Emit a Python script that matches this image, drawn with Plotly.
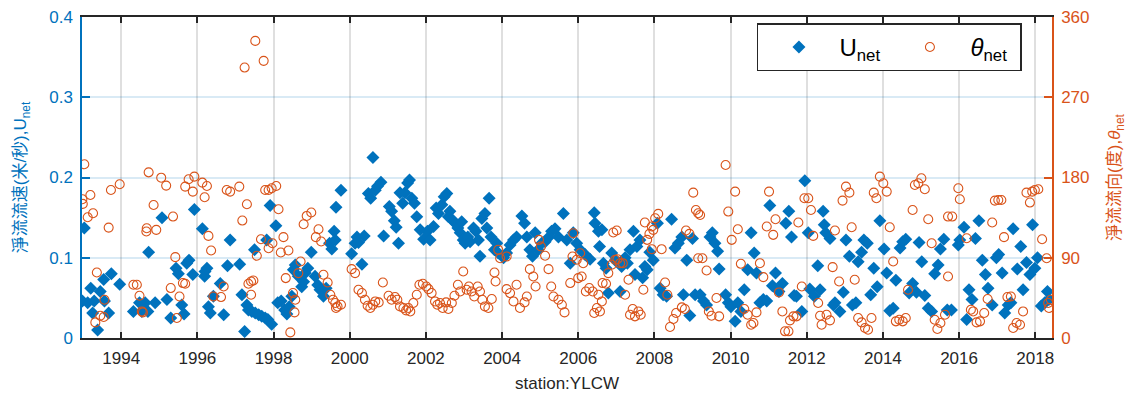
import plotly.graph_objects as go

# net current speed U_net (m/s), decimal year
u_year = [
    1992.98, 1993.03, 1993.12, 1993.20, 1993.25, 1993.29, 1993.38, 1993.45, 1993.54, 1993.56,
    1993.67, 1993.74, 1993.96, 1994.32, 1994.48, 1994.54, 1994.63, 1994.70, 1994.72, 1994.89,
    1995.07, 1995.20, 1995.30, 1995.44, 1995.50, 1995.59, 1995.65, 1995.72, 1995.78, 1995.88,
    1995.92,
    1996.13, 1996.19, 1996.20, 1996.25, 1996.29, 1996.34, 1996.42, 1996.60, 1996.69, 1996.79,
    1996.86, 1997.11, 1997.17, 1997.24, 1997.30, 1997.34, 1997.43, 1997.50, 1997.52, 1997.61,
    1997.69, 1997.78, 1997.82, 1997.85, 1997.91, 1997.95, 1998.06, 1998.11, 1998.20, 1998.29,
    1998.35, 1998.41, 1998.48, 1998.52, 1998.57, 1998.65, 1998.74, 1998.79, 1998.83, 1998.90,
    1998.99, 1999.09, 1999.16, 1999.22, 1999.31,
    1999.38, 1999.47, 1999.53, 1999.59, 1999.62, 1999.64, 1999.77, 2000.05, 2000.14, 2000.19,
    2000.23, 2000.32, 2000.38, 2000.49, 2000.55, 2000.61, 2000.67, 2000.73, 2000.82, 2000.89,
    2001.04, 2001.10, 2001.17, 2001.22, 2001.28, 2001.32, 2001.39, 2001.45, 2001.52, 2001.57,
    2001.63, 2001.70, 2001.76, 2001.85, 2001.94, 2002.04, 2002.11, 2002.20, 2002.27, 2002.33,
    2002.42, 2002.48, 2002.55, 2002.59,
    2002.63, 2002.70, 2002.77, 2002.84, 2002.90, 2002.94, 2002.98, 2003.03, 2003.10, 2003.16,
    2003.25, 2003.31, 2003.38, 2003.42, 2003.47, 2003.55, 2003.60, 2003.66, 2003.71, 2003.80,
    2003.86, 2003.90, 2004.04, 2004.12, 2004.21, 2004.30, 2004.38, 2004.52, 2004.59, 2004.65,
    2004.73, 2004.80, 2004.87, 2004.95, 2005.04, 2005.13, 2005.23, 2005.30, 2005.39, 2005.48,
    2005.61, 2005.70, 2005.79, 2005.87,
    2005.96, 2006.05, 2006.18, 2006.31, 2006.42, 2006.44, 2006.53, 2006.56, 2006.62, 2006.66,
    2006.73, 2006.79, 2006.88, 2006.97, 2007.10, 2007.14, 2007.23, 2007.29, 2007.36, 2007.45,
    2007.49, 2007.54, 2007.62, 2007.69, 2007.75, 2007.81, 2007.88, 2007.97, 2008.08, 2008.15,
    2008.23, 2008.32, 2008.45, 2008.54, 2008.63, 2008.72, 2008.76, 2008.85, 2008.93, 2009.00,
    2009.07,
    2009.20, 2009.29, 2009.37, 2009.46, 2009.52, 2009.59, 2009.66, 2009.70, 2009.87, 2009.94,
    2010.01, 2010.12, 2010.19, 2010.27, 2010.36, 2010.45, 2010.54, 2010.62, 2010.68, 2010.77,
    2010.86, 2010.95, 2011.03, 2011.10, 2011.18, 2011.27, 2011.36, 2011.45, 2011.53, 2011.60,
    2011.67, 2011.73, 2011.87, 2011.95, 2012.04, 2012.08, 2012.20, 2012.29, 2012.35, 2012.43,
    2012.46,
    2012.50, 2012.61, 2012.70, 2012.74, 2012.87, 2012.96, 2013.03, 2013.12, 2013.20, 2013.29,
    2013.35, 2013.44, 2013.50, 2013.59, 2013.68, 2013.76, 2013.85, 2013.92, 2014.03, 2014.10,
    2014.18, 2014.27, 2014.34, 2014.45, 2014.52, 2014.60, 2014.69, 2014.78, 2014.88, 2014.95,
    2015.02, 2015.10, 2015.19, 2015.28, 2015.36, 2015.45, 2015.51, 2015.60, 2015.69,
    2015.80, 2015.98, 2016.02, 2016.13, 2016.20, 2016.26, 2016.34, 2016.43, 2016.52, 2016.61,
    2016.69, 2016.76, 2016.87, 2016.98, 2017.04, 2017.13, 2017.20, 2017.29, 2017.36, 2017.42,
    2017.53, 2017.62, 2017.68, 2017.77, 2017.86, 2017.93, 2017.99, 2018.06, 2018.16, 2018.25,
    2018.32, 2018.36,
]
u_net = [
    0.046, 0.137, 0.044, 0.062, 0.031, 0.046, 0.010, 0.058, 0.073, 0.046,
    0.031, 0.080, 0.067, 0.033, 0.044, 0.033, 0.044, 0.033, 0.107, 0.044,
    0.150, 0.048, 0.025, 0.087, 0.080, 0.041, 0.030, 0.093, 0.097, 0.079,
    0.160,
    0.136, 0.077, 0.083, 0.087, 0.039, 0.031, 0.052, 0.068, 0.029, 0.090,
    0.122, 0.092, 0.054, 0.008, 0.041, 0.035, 0.033, 0.110, 0.031, 0.029,
    0.027, 0.025, 0.122, 0.023, 0.165, 0.017, 0.140, 0.044, 0.046, 0.035,
    0.030, 0.039, 0.052, 0.085, 0.091, 0.077, 0.064, 0.070, 0.081, 0.087,
    0.107, 0.077, 0.066, 0.060, 0.052,
    0.062, 0.118, 0.111, 0.133, 0.122, 0.163, 0.184, 0.105, 0.118, 0.126,
    0.119, 0.092, 0.127, 0.180, 0.174, 0.225, 0.184, 0.189, 0.194, 0.127,
    0.164, 0.158, 0.146, 0.138, 0.118, 0.181, 0.168, 0.181, 0.193, 0.197,
    0.174, 0.168, 0.151, 0.135, 0.123, 0.133, 0.122, 0.139, 0.162, 0.155,
    0.166, 0.176, 0.180, 0.151,
    0.158, 0.147, 0.143, 0.137, 0.131, 0.145, 0.122, 0.118, 0.126, 0.120,
    0.137, 0.133, 0.122, 0.102, 0.149, 0.155, 0.137, 0.174, 0.126, 0.110,
    0.118, 0.106, 0.100, 0.106, 0.116, 0.122, 0.126, 0.152, 0.143, 0.126,
    0.110, 0.102, 0.131, 0.110, 0.118, 0.120, 0.126, 0.133, 0.136, 0.126,
    0.155, 0.122, 0.093, 0.131,
    0.118, 0.110, 0.104, 0.098, 0.156, 0.143, 0.133, 0.114, 0.135, 0.093,
    0.087, 0.056, 0.106, 0.097, 0.058, 0.089, 0.100, 0.093, 0.110, 0.133,
    0.079, 0.114, 0.122, 0.075, 0.089, 0.085, 0.107, 0.097, 0.143, 0.062,
    0.054, 0.052, 0.148, 0.112, 0.118, 0.126, 0.054, 0.097, 0.028, 0.124,
    0.054,
    0.054, 0.046, 0.041, 0.126, 0.131, 0.118, 0.108, 0.086, 0.054, 0.044,
    0.039, 0.021, 0.044, 0.033, 0.060, 0.085, 0.131, 0.106, 0.081, 0.044,
    0.048, 0.046, 0.165, 0.065, 0.081, 0.058, 0.068, 0.143, 0.158, 0.126,
    0.053, 0.052, 0.033, 0.196, 0.131, 0.061, 0.052, 0.090, 0.060, 0.158,
    0.141,
    0.131, 0.124, 0.041, 0.044, 0.033, 0.057, 0.122, 0.102, 0.041, 0.044,
    0.095, 0.107, 0.122, 0.118, 0.054, 0.087, 0.064, 0.146, 0.111, 0.081,
    0.034, 0.037, 0.072, 0.112, 0.120, 0.123, 0.056, 0.068, 0.057, 0.119,
    0.095, 0.053, 0.037, 0.033, 0.080, 0.091, 0.111, 0.123, 0.035,
    0.035, 0.116, 0.122, 0.138, 0.023, 0.060, 0.048, 0.124, 0.146, 0.097,
    0.079, 0.062, 0.041, 0.100, 0.104, 0.081, 0.031, 0.041, 0.044, 0.136,
    0.086, 0.114, 0.060, 0.094, 0.079, 0.141, 0.087, 0.100, 0.040, 0.044,
    0.058, 0.048,
]

# net current direction theta_net (degrees), decimal year
th_year = [
    1992.98, 1992.99, 1993.03, 1993.12, 1993.19, 1993.26, 1993.32, 1993.36, 1993.45, 1993.54,
    1993.56, 1993.67, 1993.73, 1993.96, 1994.32, 1994.41, 1994.48, 1994.54, 1994.57, 1994.66,
    1994.67, 1994.72, 1994.85, 1994.92, 1995.05, 1995.18, 1995.30, 1995.36, 1995.42, 1995.46,
    1995.53, 1995.62, 1995.68, 1995.68, 1995.77, 1995.88, 1995.92,
    1996.13, 1996.19, 1996.25, 1996.29, 1996.36, 1996.42, 1996.62, 1996.69, 1996.77, 1996.86,
    1997.10, 1997.18, 1997.24, 1997.30, 1997.34, 1997.41, 1997.41, 1997.47, 1997.52, 1997.56,
    1997.67, 1997.74, 1997.78, 1997.87, 1997.87, 1997.95, 1997.97, 1998.07, 1998.13, 1998.19,
    1998.26, 1998.32, 1998.39, 1998.44, 1998.51, 1998.55, 1998.57, 1998.65, 1998.71, 1998.79,
    1998.87, 1998.99, 1999.11, 1999.18, 1999.25, 1999.31,
    1999.42, 1999.49, 1999.56, 1999.62, 1999.64, 1999.68, 1999.77, 2000.05, 2000.14, 2000.23,
    2000.32, 2000.40, 2000.47, 2000.54, 2000.61, 2000.67, 2000.76, 2000.87, 2001.02, 2001.10,
    2001.19, 2001.25, 2001.32, 2001.41, 2001.48, 2001.54, 2001.59, 2001.67, 2001.76, 2001.83,
    2001.92, 2002.01, 2002.07, 2002.15, 2002.24, 2002.30, 2002.37, 2002.44, 2002.53, 2002.59,
    2002.68, 2002.75, 2002.84, 2002.90, 2002.98, 2003.07, 2003.13, 2003.20, 2003.27, 2003.36,
    2003.42, 2003.48, 2003.55, 2003.64, 2003.73, 2003.80, 2003.83, 2003.90, 2003.95, 2004.12,
    2004.12, 2004.21, 2004.30, 2004.38, 2004.47, 2004.59, 2004.65, 2004.73, 2004.82, 2004.88,
    2004.97, 2005.02, 2005.13, 2005.22, 2005.29, 2005.35, 2005.48, 2005.57, 2005.64, 2005.79,
    2005.85, 2005.87,
    2005.96, 2006.00, 2006.05, 2006.09, 2006.13, 2006.20, 2006.29, 2006.38, 2006.42, 2006.49,
    2006.53, 2006.57, 2006.62, 2006.64, 2006.73, 2006.79, 2006.88, 2006.92, 2006.97, 2007.01,
    2007.03, 2007.10, 2007.17, 2007.23, 2007.32, 2007.36, 2007.43, 2007.49, 2007.58, 2007.64,
    2007.71, 2007.75, 2007.81, 2007.87, 2007.93, 2007.93, 2007.97, 2008.02, 2008.10, 2008.19,
    2008.28, 2008.34, 2008.41, 2008.50, 2008.57, 2008.72, 2008.80, 2008.83, 2008.92, 2009.02,
    2009.09, 2009.15, 2009.15,
    2009.20, 2009.26, 2009.37, 2009.43, 2009.50, 2009.63, 2009.70, 2009.87, 2009.94, 2010.03,
    2010.12, 2010.19, 2010.27, 2010.36, 2010.45, 2010.54, 2010.60, 2010.68, 2010.77, 2010.86,
    2010.95, 2011.01, 2011.12, 2011.18, 2011.27, 2011.36, 2011.43, 2011.52, 2011.56, 2011.65,
    2011.73, 2011.78, 2011.87, 2011.94, 2012.04, 2012.11, 2012.17, 2012.30, 2012.35, 2012.39,
    2012.52, 2012.61, 2012.68, 2012.74, 2012.85, 2012.94, 2013.03, 2013.12, 2013.18, 2013.26,
    2013.35, 2013.44, 2013.53, 2013.61, 2013.70, 2013.76, 2013.83, 2013.92, 2014.01, 2014.10,
    2014.18, 2014.27, 2014.34, 2014.43, 2014.52, 2014.60, 2014.66, 2014.78, 2014.84, 2014.93,
    2015.01, 2015.10, 2015.19, 2015.28, 2015.36, 2015.43, 2015.51, 2015.63, 2015.71, 2015.71,
    2015.82, 2015.98, 2016.02, 2016.20, 2016.31, 2016.37, 2016.46, 2016.55, 2016.66, 2016.75,
    2016.87, 2016.94, 2017.03, 2017.11, 2017.18, 2017.27, 2017.36, 2017.42, 2017.51, 2017.60,
    2017.68, 2017.77, 2017.86, 2017.92, 2017.99, 2018.08, 2018.18, 2018.30, 2018.34, 2018.36,
    2018.41,
]
th_net = [
    155.6, 150.4, 194.8, 135.4, 160.4, 139.9, 17.5, 73.5, 25.0, 23.5,
    42.9, 123.8, 166.0, 172.4, 59.7, 59.7, 47.4, 29.8, 28.7, 119.4,
    123.1, 185.8, 149.2, 121.3, 179.8, 170.9, 56.0, 136.2, 90.7, 22.4,
    46.6, 61.6, 60.8, 169.8, 178.0, 164.2, 181.0,
    174.2, 157.8, 170.5, 114.5, 98.1, 46.6, 45.9, 57.8, 166.0, 164.2,
    169.8, 131.7, 303.3, 150.0, 60.8, 63.4, 48.5, 64.5, 333.2, 92.2,
    110.8, 310.8, 166.0, 166.0, 100.7, 167.9, 106.3, 170.5, 144.4, 95.9,
    113.1, 67.2, 98.1, 6.3, 50.4, 28.7, 42.9, 72.8, 85.8, 127.6,
    136.9, 140.7, 113.1, 122.0, 108.2, 70.9,
    62.3, 48.5, 42.9, 39.2, 33.6, 35.4, 37.3, 77.2, 72.8, 54.1,
    50.4, 42.9, 36.2, 33.6, 37.3, 41.0, 39.9, 62.3, 47.4, 42.9,
    45.9, 42.9, 35.4, 33.6, 31.0, 33.6, 29.8, 39.2, 48.5, 59.7,
    60.8, 57.8, 54.8, 50.4, 41.0, 37.3, 39.2, 33.6, 39.9, 32.5,
    39.2, 47.4, 59.7, 52.2, 74.6, 54.1, 57.8, 52.2, 46.6, 57.8,
    52.2, 42.9, 35.4, 33.6, 43.7, 73.5, 63.4, 98.9, 89.5, 91.4,
    54.8, 50.4, 41.0, 59.7, 33.6, 39.9, 46.6, 77.2, 69.0, 57.8,
    110.1, 102.6, 92.2, 77.2, 57.8, 46.6, 42.9, 37.3, 28.7, 61.6,
    91.4, 117.5,
    87.7, 67.2, 95.1, 69.0, 83.9, 52.2, 56.0, 52.2, 28.0, 33.6,
    48.5, 29.8, 41.0, 61.6, 60.8, 72.8, 82.1, 118.3, 87.7, 120.5,
    88.4, 83.9, 83.9, 48.5, 65.3, 26.1, 32.5, 24.3, 29.8, 26.1,
    54.1, 129.5, 110.1, 116.8, 125.0, 99.6, 121.3, 134.3, 139.2, 99.6,
    62.3, 48.5, 12.3, 21.3, 28.0, 34.3, 32.5, 120.5, 116.8, 163.0,
    143.6, 139.9, 89.5,
    138.0, 89.5, 75.7, 29.8, 25.0, 44.8, 24.3, 194.0, 141.8, 110.1,
    164.2, 122.0, 83.2, 32.5, 26.1, 14.9, 16.8, 28.7, 83.9, 68.3,
    125.0, 164.2, 115.7, 133.2, 51.1, 29.8, 7.5, 7.5, 19.8, 24.3,
    24.3, 129.5, 57.8, 156.7, 156.7, 143.6, 114.5, 39.2, 25.0, 14.9,
    26.1, 19.8, 79.5, 120.5, 63.4, 154.1, 169.8, 163.0, 124.2, 65.3,
    22.4, 17.5, 11.2, 9.3, 22.4, 163.0, 156.7, 181.0, 173.5, 164.2,
    124.2, 85.8, 18.7, 20.5, 18.7, 22.4, 54.1, 143.6, 171.6, 173.5,
    179.1, 166.8, 133.2, 106.3, 20.5, 10.1, 16.8, 26.1, 69.0, 136.2,
    136.2, 167.9, 155.6, 111.9, 31.7, 29.8, 17.5, 18.7, 28.0, 43.7,
    129.5, 154.1, 154.8, 154.8, 113.1, 45.9, 46.6, 11.2, 16.8, 14.9,
    29.8, 163.0, 151.9, 164.2, 166.0, 166.8, 110.8, 89.5, 39.2, 33.6,
    42.9,
]

x_ticks = list(range(1994, 2019, 2))
u_ticks = [0, 0.1, 0.2, 0.3, 0.4]
th_ticks = [0, 90, 180, 270, 360]

BLUE = "#0072BD"
ORANGE = "#D95319"
DARK = "#262626"
FONT = "Liberation Sans, Arial, Noto Sans CJK SC, sans-serif"

fig = go.Figure()
fig.add_trace(go.Scatter(
    x=u_year, y=u_net, mode="markers", name="U<sub>net</sub>",
    marker=dict(symbol="diamond", size=10, color=BLUE, line_width=0),
))
fig.add_trace(go.Scatter(
    x=th_year, y=th_net, mode="markers", name="<i>θ</i><sub>net</sub>", yaxis="y2",
    marker=dict(symbol="circle-open", size=9, color=ORANGE, line=dict(width=1.1, color=ORANGE)),
))

# the page body keeps its default 8px margin, so the figure is 16px smaller
fig.update_layout(
    width=1123, height=385,
    margin=dict(l=74, r=79, t=9, b=55, autoexpand=False),
    plot_bgcolor="white", paper_bgcolor="white",
    font=dict(family=FONT, size=17, color=DARK),
    showlegend=True,
    legend=dict(
        orientation="h", x=0.969, xanchor="right", y=0.98, yanchor="top",
        bgcolor="white", bordercolor=DARK, borderwidth=1.5,
        font=dict(size=24, color="black"), entrywidth=45, itemwidth=71,
    ),
    xaxis=dict(
        range=[1992.97, 2018.44], tickvals=x_ticks, ticktext=[str(v) for v in x_ticks],
        ticks="inside", ticklen=6, tickcolor=DARK, tickwidth=1.5, automargin=False,
        showline=True, linecolor=DARK, linewidth=1.5, mirror="ticks",
        showgrid=True, gridcolor="rgba(38,38,38,0.15)", gridwidth=1.5, zeroline=False,
        tickfont=dict(color=DARK), ticklabelstandoff=4, ticklabeloverflow="allow",
        title=dict(text="station:YLCW", standoff=13, font=dict(color=DARK, size=17)),
    ),
    yaxis=dict(
        range=[0, 0.4], tickvals=u_ticks, ticktext=["0", "0.1", "0.2", "0.3", "0.4"],
        ticks="inside", ticklen=8, tickcolor=BLUE, tickwidth=1.5, automargin=False,
        showline=True, linecolor=BLUE, linewidth=1.5,
        showgrid=True, gridcolor="rgba(0,114,189,0.15)", gridwidth=1.5, zeroline=False,
        tickfont=dict(color=BLUE), ticklabelstandoff=4, ticklabeloverflow="allow",
        title=dict(text="淨流流速(米/秒),U<sub>net</sub>", standoff=18, font=dict(color=BLUE, size=17)),
    ),
    yaxis2=dict(
        overlaying="y", side="right", range=[0, 360], tickvals=th_ticks,
        ticks="inside", ticklen=8, tickcolor=ORANGE, tickwidth=1.5, automargin=False,
        showline=True, linecolor=ORANGE, linewidth=1.5,
        showgrid=False, zeroline=False,
        tickfont=dict(color=ORANGE), ticklabelstandoff=4, ticklabeloverflow="allow",
        title=dict(text="淨流流向(度),<i>θ</i><sub>net</sub>", standoff=20, font=dict(color=ORANGE, size=17)),
    ),
)

fig.write_html("out.html")
